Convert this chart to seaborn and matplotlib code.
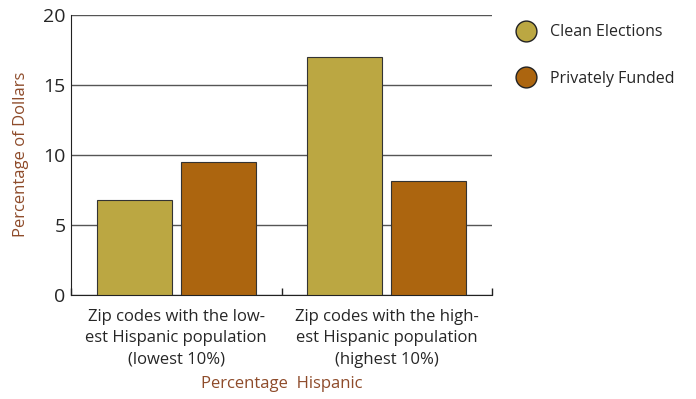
import numpy as np
import pandas as pd
import matplotlib.pyplot as plt
import seaborn as sns
from matplotlib.lines import Line2D

# chart data
groups = ["Zip codes with the low-\nest Hispanic population\n(lowest 10%)",
          "Zip codes with the high-\nest Hispanic population\n(highest 10%)"]
series = ["Clean Elections", "Privately Funded"]
clean_values = [6.8, 17.0]
private_values = [9.5, 8.1]
colors = ["#BBA742", "#AC650F"]
brown = "#8E4B2A"

df = pd.DataFrame({
    "group": groups * 2,
    "funding": [series[0]] * 2 + [series[1]] * 2,
    "value": clean_values + private_values,
})

sns.set_style("white")
plt.rcParams['font.family'] = ['Open Sans', 'DejaVu Sans']

fig = plt.figure(figsize=(6.96, 3.99), dpi=100)
ax = fig.add_axes([0.102, 0.261, 0.605, 0.702])

sns.barplot(data=df, x="group", y="value", hue="funding", palette=colors,
            saturation=1, gap=0.11, edgecolor="#333333", linewidth=0.8,
            legend=False, errorbar=None, ax=ax, zorder=3)

ax.set_ylim(0, 20)
ax.set_xlim(-0.5, 1.5)
ax.set_yticks([0, 5, 10, 15, 20])
ax.yaxis.grid(True, color="#555555", linewidth=1)
ax.set_axisbelow(True)
sns.despine(ax=ax)
ax.spines["left"].set_color("#222222")
ax.spines["bottom"].set_color("#222222")

ax.tick_params(axis="y", length=0, labelsize=14, pad=4)
ax.tick_params(axis="x", length=0, labelsize=12, pad=10)
for lbl in ax.get_xticklabels():
    lbl.set_linespacing(1.45)
ax.set_xticks([-0.5, 0.5, 1.5], minor=True)
ax.tick_params(axis="x", which="minor", bottom=True, direction="in",
               length=5, width=1, color="#222222")

# axis titles
ax.set_ylabel("Percentage of Dollars", color=brown, fontsize=12, labelpad=10)
ax.set_xlabel("Percentage  Hispanic", color=brown, fontsize=12, labelpad=6)

handles = [Line2D([0], [0], marker="o", linestyle="", markersize=15,
                  markerfacecolor=c, markeredgecolor="#222222", markeredgewidth=1)
           for c in colors]
fig.legend(handles, series, loc="upper left", bbox_to_anchor=(0.712, 0.975),
           frameon=False, fontsize=11.5, handletextpad=0.5, labelspacing=1.9)

fig.savefig("out.png", dpi=100)
